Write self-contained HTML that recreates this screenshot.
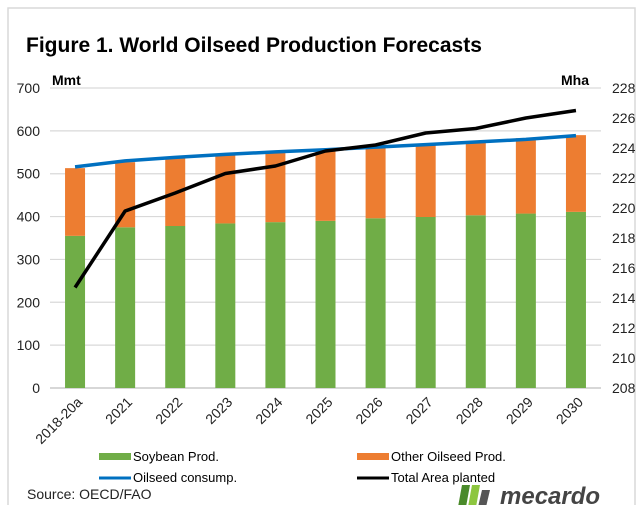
<!DOCTYPE html>
<html><head><meta charset="utf-8"><style>
body{margin:0;background:#fff;font-family:"Liberation Sans",Arial,sans-serif;}
#wrap{position:relative;width:643px;height:505px;overflow:hidden;background:#fff}
</style></head><body>
<div id="wrap">
<svg id="chart" width="643" height="505" xmlns="http://www.w3.org/2000/svg">
<rect x="8" y="8" width="627" height="510" fill="none" stroke="#d9d9d9" stroke-width="1.5"/>
<text x="26" y="52" font-size="21" font-weight="bold" fill="#000">Figure 1. World Oilseed Production Forecasts</text>
<text x="52" y="85" font-size="14" font-weight="bold">Mmt</text>
<text x="589" y="85" font-size="14" font-weight="bold" text-anchor="end">Mha</text>
<g id="grid"></g><g id="bars"></g><g id="lines"></g><g id="axes"></g>
<g>
<rect x="99" y="453" width="32" height="7" fill="#70ad47"/>
<text x="133" y="461" font-size="13">Soybean Prod.</text>
<rect x="357" y="453" width="32" height="7" fill="#ed7d31"/>
<text x="391" y="461" font-size="13">Other Oilseed Prod.</text>
<line x1="99" y1="478" x2="131" y2="478" stroke="#0070c0" stroke-width="3"/>
<text x="133" y="482" font-size="13">Oilseed consump.</text>
<line x1="357" y1="478" x2="389" y2="478" stroke="#000" stroke-width="3"/>
<text x="391" y="482" font-size="13">Total Area planted</text>
</g>
<text x="27" y="499" font-size="14" fill="#222">Source: OECD/FAO</text>
<g>
<polygon points="462,485 470,485 466,507 458,507" fill="#4a8a2a"/>
<polygon points="472,485 480,485 476,507 468,507" fill="#8dc63f"/>
<polygon points="482,490 490,490 486,507 478,507" fill="#555"/>
<text x="500" y="504" font-size="24" font-weight="bold" font-style="italic" fill="#444">mecardo</text>
</g>
</svg>
</div>
<script>
const categories=["2018-20a","2021","2022","2023","2024","2025","2026","2027","2028","2029","2030"];
const soybean=[355,375,378,384,387,390,396,399,403,407,411];
const otherOilseed=[158,152,160,161,165,168,169,171,173,176,179];
const consumption=[516,530,538,545,551,556,562,568,574,580,589];
const areaPlanted=[214.7,219.8,221.0,222.3,222.8,223.8,224.2,225.0,225.3,226.0,226.5];
const leftTicks=[0,100,200,300,400,500,600,700];
const rightTicks=[208,210,212,214,216,218,220,222,224,226,228];
const NS="http://www.w3.org/2000/svg";
const x0=50,x1=601,yTop=88,yBot=388;
const step=(x1-x0)/categories.length;
const xC=i=>x0+step*(i+0.5);
const yL=v=>yBot-(v/700)*(yBot-yTop);
const yR=v=>yBot-((v-208)/20)*(yBot-yTop);
function mk(t,a,p){const e=document.createElementNS(NS,t);for(const k in a)e.setAttribute(k,a[k]);p.appendChild(e);return e;}
const grid=document.getElementById('grid'),bars=document.getElementById('bars'),lines=document.getElementById('lines'),axes=document.getElementById('axes');
leftTicks.forEach(v=>{
 const l=mk('line',{x1:x0,x2:x1,y1:yL(v),y2:yL(v),stroke:v===0?'#bfbfbf':'#d9d9d9','stroke-width':1.2},grid);
 
 
 const t=mk('text',{x:40,y:yL(v)+5,'font-size':14,'text-anchor':'end',fill:'#222'},axes);t.textContent=v;
 
 
});
rightTicks.forEach(v=>{
 const t=mk('text',{x:612,y:yR(v)+5,'font-size':14,fill:'#222'},axes);t.textContent=v;
 
 
});
categories.forEach((c,i)=>{
 const bw=20,cx=xC(i);
 const g=mk('rect',{x:cx-bw/2,y:yL(soybean[i]),width:bw,height:yBot-yL(soybean[i]),fill:'#70ad47'},bars);
 
 
 const top=soybean[i]+otherOilseed[i];
 const o=mk('rect',{x:cx-bw/2,y:yL(top),width:bw,height:yL(soybean[i])-yL(top),fill:'#ed7d31'},bars);
 
 
 const t=mk('text',{x:cx+8,y:403,'font-size':14,'text-anchor':'end',fill:'#222',transform:`rotate(-45 ${cx+8} 403)`},axes);t.textContent=c;
 
 
});
const cp=mk('polyline',{points:consumption.map((v,i)=>xC(i)+','+yL(v)).join(' '),fill:'none',stroke:'#0070c0','stroke-width':3.5,'stroke-linejoin':'round'},lines);


const ap=mk('polyline',{points:areaPlanted.map((v,i)=>xC(i)+','+yR(v)).join(' '),fill:'none',stroke:'#000','stroke-width':3.5,'stroke-linejoin':'round'},lines);


</script>
</body></html>
